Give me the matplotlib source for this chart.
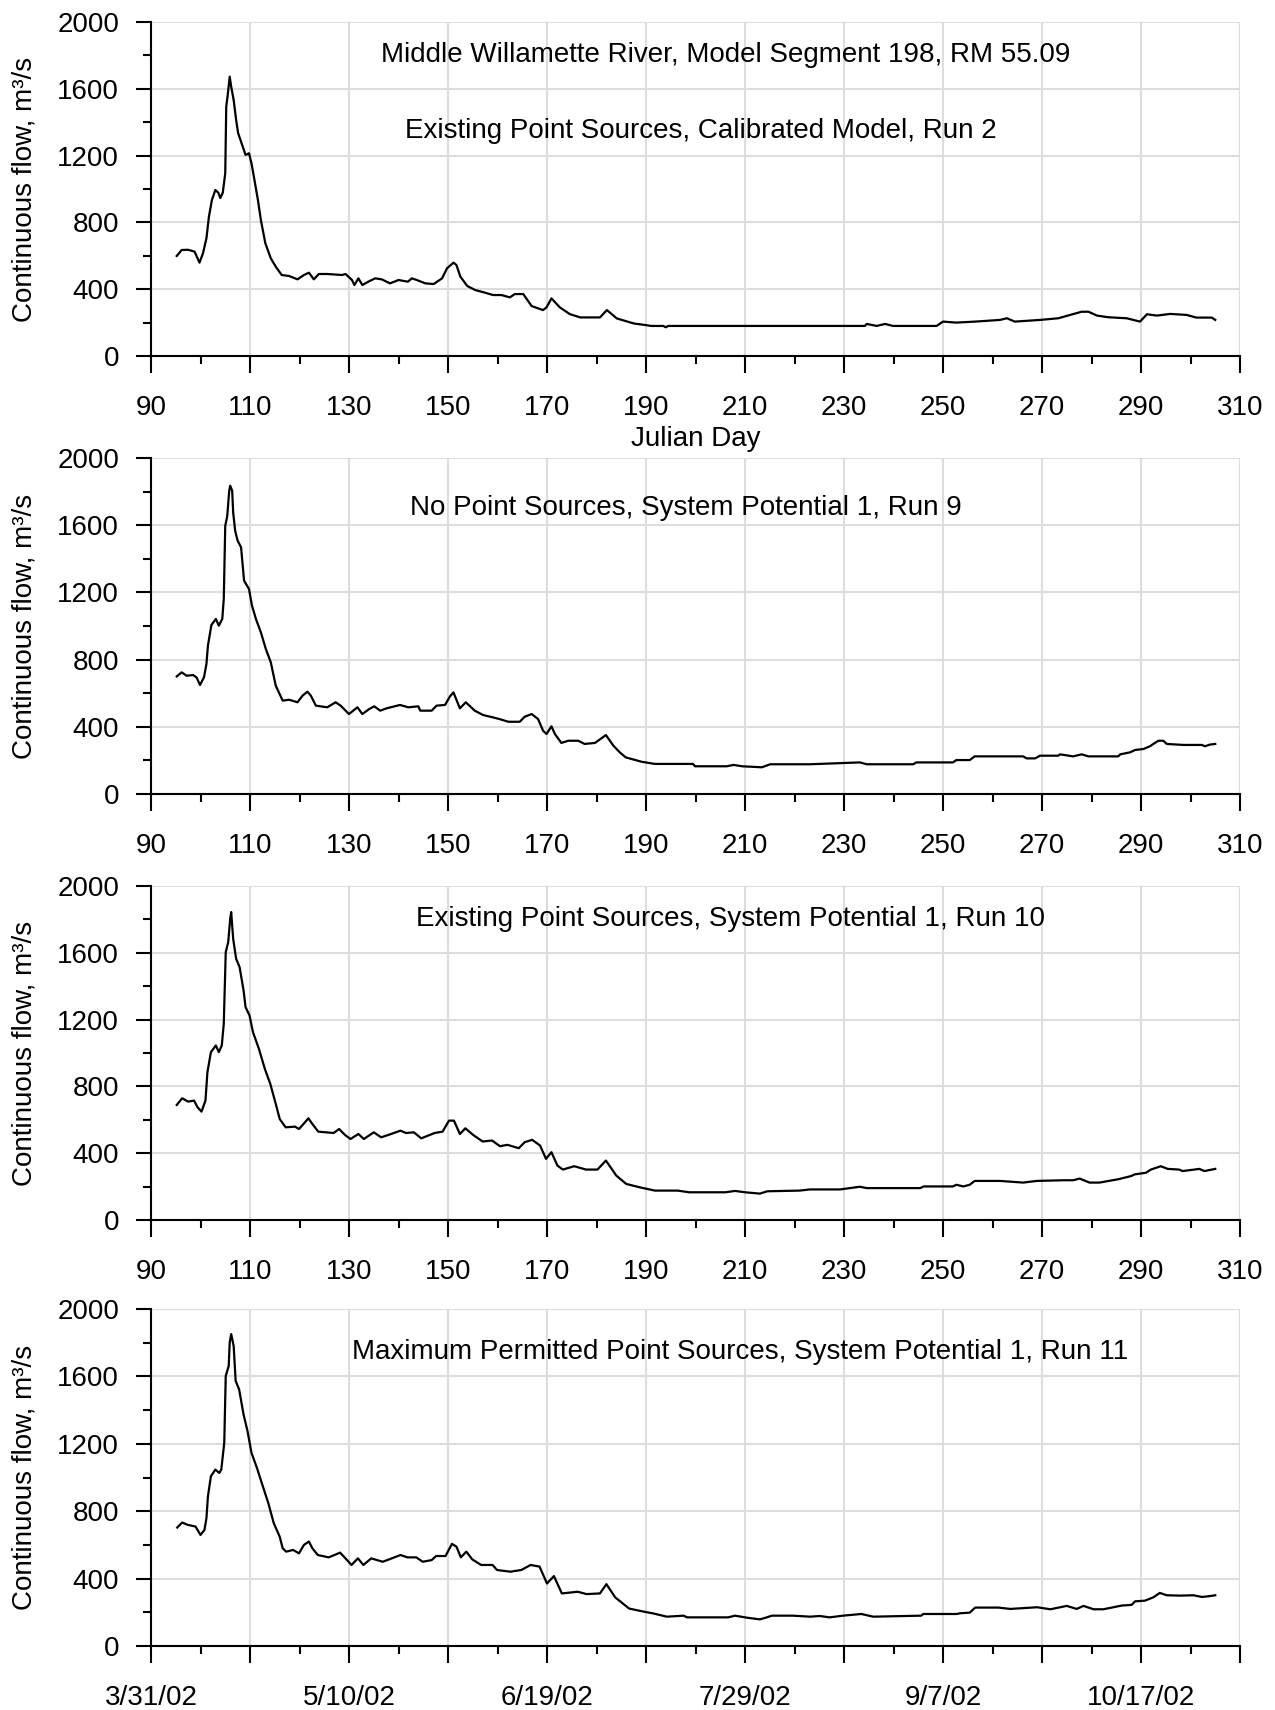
import matplotlib
matplotlib.use('Agg')
import matplotlib.pyplot as plt
from matplotlib.ticker import MultipleLocator

plt.rcParams['font.family'] = ['Liberation Sans', 'DejaVu Sans']

# Julian day / continuous flow (m3/s)
day1 = [95.2, 96.2, 97.5, 98.8, 99.8, 100.5, 101.2, 101.7, 102.3, 103.0, 103.6, 104.0, 104.5,
        105.0, 105.2, 105.5, 105.9, 106.2, 106.7, 107.2, 107.6, 108.3, 109.1, 109.8, 110.3,
        110.9, 111.6, 112.2, 113.1, 114.2, 115.2, 116.4, 117.9, 119.6, 120.9, 121.9, 122.9,
        123.9, 125.6, 128.6, 129.3, 130.6, 131.1, 131.9, 132.7, 133.9, 135.3, 136.6, 138.3,
        140.0, 141.9, 142.7, 143.7, 145.4, 147.1, 148.8, 149.8, 151.1, 151.7, 152.5, 153.9,
        155.5, 157.5, 159.1, 160.8, 162.5, 163.5, 165.2, 166.9, 169.2, 169.9, 170.9, 172.6,
        174.6, 176.7, 180.7, 182.1, 184.1, 187.5, 190.2, 191.0, 193.5, 194.0, 194.5, 234.2,
        234.6, 236.6, 238.3, 239.9, 248.7, 250.0, 252.7, 256.5, 261.5, 262.9, 264.5, 269.6,
        273.3, 275.7, 278.0, 279.4, 281.1, 283.4, 287.1, 289.8, 291.2, 293.2, 295.9, 299.2,
        301.2, 304.3, 305.0]
flow1 = [599, 635, 636, 625, 559, 615, 705, 834, 934, 994, 978, 946, 978,
         1094, 1493, 1563, 1673, 1613, 1533, 1413, 1335, 1274, 1204, 1214, 1154,
         1054, 934, 814, 675, 585, 535, 485, 479, 459, 485, 499, 459,
         491, 491, 485, 491, 455, 425, 465, 425, 445, 465, 459, 435,
         455, 445, 465, 455, 435, 431, 465, 525, 559, 545, 475, 419,
         395, 379, 365, 365, 351, 371, 371, 299, 275, 291, 345, 291,
         251, 231, 231, 275, 225, 195, 184, 180, 180, 172, 180, 180,
         192, 180, 192, 180, 180, 206, 200, 206, 216, 226, 206, 216,
         226, 246, 265, 265, 242, 232, 226, 206, 250, 242, 252, 246,
         230, 230, 216]

day2 = [95.2, 96.2, 97.2, 98.5, 99.2, 99.9, 100.7, 101.2, 101.5, 102.2, 103.1, 103.7, 104.4,
        104.7, 105.0, 105.4, 105.8, 106.0, 106.4, 106.6, 107.0, 107.5, 108.2, 108.8, 109.8,
        110.4, 111.2, 112.2, 113.2, 114.2, 115.2, 116.6, 117.9, 119.6, 120.6, 121.6, 122.3,
        123.3, 125.6, 127.3, 128.3, 130.0, 131.7, 132.7, 134.1, 135.1, 136.3, 137.6, 140.3,
        142.0, 144.0, 144.4, 146.7, 147.7, 149.4, 150.4, 151.1, 152.4, 153.6, 155.4, 157.1,
        159.1, 160.4, 162.2, 164.5, 165.5, 166.9, 168.2, 169.2, 169.9, 170.9, 171.6, 172.9,
        174.3, 176.3, 177.6, 179.7, 181.9, 183.4, 184.7, 185.9, 189.1, 191.8, 199.5, 199.9,
        206.3, 207.7, 209.4, 213.4, 215.1, 223.1, 233.2, 234.6, 244.0, 244.6, 252.0, 252.7,
        255.4, 256.4, 266.2, 266.9, 268.6, 269.6, 273.3, 273.6, 276.3, 278.0, 279.4, 285.4,
        285.8, 287.8, 288.8, 290.5, 291.8, 292.5, 293.5, 294.5, 295.2, 298.6, 302.3, 302.9,
        303.9, 305.0]
flow2 = [700, 724, 704, 708, 694, 649, 694, 774, 883, 1006, 1042, 1002, 1042,
         1161, 1597, 1653, 1805, 1835, 1805, 1676, 1567, 1508, 1468, 1270, 1220,
         1121, 1042, 962, 863, 784, 645, 556, 561, 546, 585, 609, 585,
         526, 516, 546, 526, 476, 516, 476, 506, 522, 496, 510, 530,
         516, 522, 496, 496, 526, 530, 581, 605, 510, 546, 496, 470,
         456, 446, 430, 430, 460, 476, 446, 377, 357, 403, 357, 304,
         317, 317, 298, 304, 351, 288, 248, 218, 192, 179, 179, 165,
         165, 173, 165, 159, 177, 177, 188, 177, 177, 188, 188, 202,
         202, 224, 224, 212, 212, 228, 228, 236, 224, 236, 224, 224,
         236, 248, 262, 268, 284, 298, 317, 317, 298, 292, 292, 284,
         294, 298]

day3 = [95.2, 96.3, 97.5, 98.7, 99.4, 100.2, 101.0, 101.4, 102.1, 103.1, 103.7, 104.3, 104.7,
        105.1, 105.6, 106.0, 106.2, 106.6, 107.2, 107.9, 108.7, 109.1, 109.9, 110.6, 111.8,
        113.0, 114.1, 115.3, 116.0, 117.2, 119.1, 119.9, 121.1, 121.8, 122.6, 123.8, 126.9,
        128.0, 129.2, 130.3, 131.9, 133.0, 135.0, 136.5, 138.5, 140.4, 141.5, 143.1, 144.6,
        147.3, 148.9, 150.2, 151.2, 152.4, 153.5, 155.1, 157.0, 158.9, 160.5, 162.0, 164.3,
        165.5, 167.0, 168.6, 169.8, 170.9, 172.1, 173.2, 175.5, 177.9, 180.2, 181.9, 184.0,
        186.0, 188.7, 191.8, 196.4, 198.7, 206.0, 208.0, 210.0, 213.0, 214.5, 221.0, 223.1,
        229.2, 233.2, 234.6, 245.4, 246.1, 252.0, 252.7, 254.1, 255.4, 256.4, 261.5, 266.2,
        268.9, 274.3, 276.3, 277.6, 279.6, 281.6, 285.4, 288.0, 288.7, 291.0, 292.0, 294.0,
        295.4, 297.7, 298.4, 301.8, 302.8, 305.0]
flow3 = [689, 729, 709, 715, 675, 649, 715, 885, 1005, 1045, 1005, 1045, 1175,
         1604, 1664, 1804, 1844, 1684, 1564, 1514, 1375, 1275, 1225, 1125, 1025,
         905, 815, 685, 605, 555, 559, 545, 585, 609, 575, 529, 521,
         545, 509, 485, 515, 485, 525, 495, 515, 535, 521, 525, 489,
         521, 529, 595, 595, 515, 549, 509, 470, 476, 442, 450, 430,
         466, 480, 446, 366, 406, 326, 302, 322, 302, 302, 356, 266,
         216, 196, 176, 176, 166, 166, 174, 166, 158, 172, 176, 183,
         183, 199, 191, 191, 201, 201, 211, 201, 211, 234, 234, 224,
         234, 238, 238, 248, 224, 224, 244, 263, 273, 283, 302, 322,
         306, 302, 293, 306, 293, 306]

day4 = [95.3, 96.3, 97.4, 99.0, 100.0, 100.8, 101.2, 101.5, 102.1, 103.0, 103.8, 104.2, 104.8,
        105.1, 105.7, 105.9, 106.2, 106.7, 107.1, 107.8, 108.7, 109.5, 110.3, 111.4, 112.6,
        113.7, 114.8, 116.0, 116.6, 117.3, 118.7, 119.9, 120.9, 121.9, 122.6, 123.7, 125.9,
        128.2, 129.1, 130.5, 131.8, 132.9, 134.5, 136.8, 138.1, 140.4, 141.8, 143.6, 144.9,
        146.7, 147.6, 149.5, 150.8, 151.7, 152.6, 153.7, 154.9, 156.7, 159.0, 159.9, 162.6,
        164.8, 166.7, 168.5, 169.4, 170.0, 171.4, 173.0, 176.2, 178.0, 180.7, 182.0, 183.8,
        186.6, 189.7, 191.5, 194.2, 197.6, 198.3, 206.6, 208.0, 210.4, 213.0, 214.4, 215.4,
        219.7, 223.2, 225.1, 227.1, 229.8, 233.5, 235.9, 245.6, 246.0, 252.8, 253.4, 255.4,
        256.5, 261.2, 263.6, 269.0, 271.7, 275.0, 277.0, 278.4, 280.4, 282.4, 286.1, 288.1,
        288.8, 290.8, 292.5, 293.8, 295.2, 297.9, 300.6, 302.3, 303.6, 305.0]
flow4 = [703, 733, 719, 709, 659, 689, 759, 888, 1007, 1047, 1027, 1047, 1206,
         1603, 1662, 1801, 1851, 1781, 1573, 1523, 1374, 1275, 1146, 1057, 947,
         848, 729, 649, 580, 560, 570, 550, 600, 620, 580, 540, 526,
         554, 526, 481, 520, 481, 520, 500, 514, 540, 526, 526, 500,
         510, 534, 534, 606, 590, 526, 560, 514, 481, 481, 451, 441,
         451, 481, 471, 411, 371, 415, 312, 322, 308, 312, 367, 288,
         222, 203, 193, 174, 180, 170, 170, 180, 168, 158, 170, 180,
         180, 174, 178, 170, 180, 190, 174, 180, 190, 190, 194, 198,
         228, 228, 220, 230, 218, 238, 220, 238, 218, 218, 240, 244,
         265, 269, 289, 315, 301, 299, 301, 291, 295, 301]

titles = [['Middle Willamette River, Model Segment 198, RM 55.09',
           'Existing Point Sources, Calibrated Model, Run 2'],
          ['No Point Sources, System Potential 1, Run 9'],
          ['Existing Point Sources, System Potential 1, Run 10'],
          ['Maximum Permitted Point Sources, System Potential 1, Run 11']]
title_pos = [[(206, 1800), (201, 1345)], [(198, 1700)], [(207, 1805)], [(209, 1745)]]

day_ticks = [90, 110, 130, 150, 170, 190, 210, 230, 250, 270, 290, 310]
date_labels = ['3/31/02', '', '5/10/02', '', '6/19/02', '', '7/29/02', '', '9/7/02', '',
               '10/17/02', '']
flow_ticks = [0, 400, 800, 1200, 1600, 2000]


def draw_panel(ax, day, flow, texts, positions):
    ax.plot(day, flow, color='black', lw=1.6, zorder=3)
    ax.set_xlim(90, 310)
    ax.set_ylim(0, 2000)
    ax.set_xticks(day_ticks)
    ax.set_yticks(flow_ticks)
    ax.yaxis.set_minor_locator(MultipleLocator(200))
    ax.xaxis.set_minor_locator(MultipleLocator(10))
    ax.grid(True, which='major', color='#dddddd', lw=1.5, zorder=0)
    for side in ['top', 'right']:
        ax.spines[side].set_visible(False)
    for side in ['left', 'bottom']:
        ax.spines[side].set_linewidth(1.5)
        ax.spines[side].set_zorder(4)
    ax.tick_params(axis='y', which='major', direction='out', length=11, width=1.5,
                   labelsize=20, pad=12)
    ax.tick_params(axis='y', which='minor', direction='out', length=6, width=1.5)
    ax.tick_params(axis='x', which='major', direction='out', length=12, width=1.5,
                   labelsize=20, pad=16)
    ax.tick_params(axis='x', which='minor', direction='out', length=6, width=1.5)
    ax.set_ylabel('Continuous flow, m³/s', fontsize=20, labelpad=14)
    for text, (x, y) in zip(texts, positions):
        ax.text(x, y, text, ha='center', va='center', fontsize=20)


fig = plt.figure(figsize=(12.75, 17.1), dpi=100)
tops = [22, 458, 886, 1309]
bottoms = [356, 794, 1220, 1646]
left, right = 151 / 1275, 1240 / 1275
axes = []
for top, bottom in zip(tops, bottoms):
    axes.append(fig.add_axes([left, 1 - bottom / 1710, right - left, (bottom - top) / 1710]))

series = [(day1, flow1), (day2, flow2), (day3, flow3), (day4, flow4)]
for ax, (day, flow), texts, positions in zip(axes, series, titles, title_pos):
    draw_panel(ax, day, flow, texts, positions)

axes[0].set_xlabel('Julian Day', fontsize=20, labelpad=4)

# bottom panel shows calendar dates instead of Julian day
axes[3].set_xticklabels(date_labels)

fig.savefig('out.png', dpi=100)
